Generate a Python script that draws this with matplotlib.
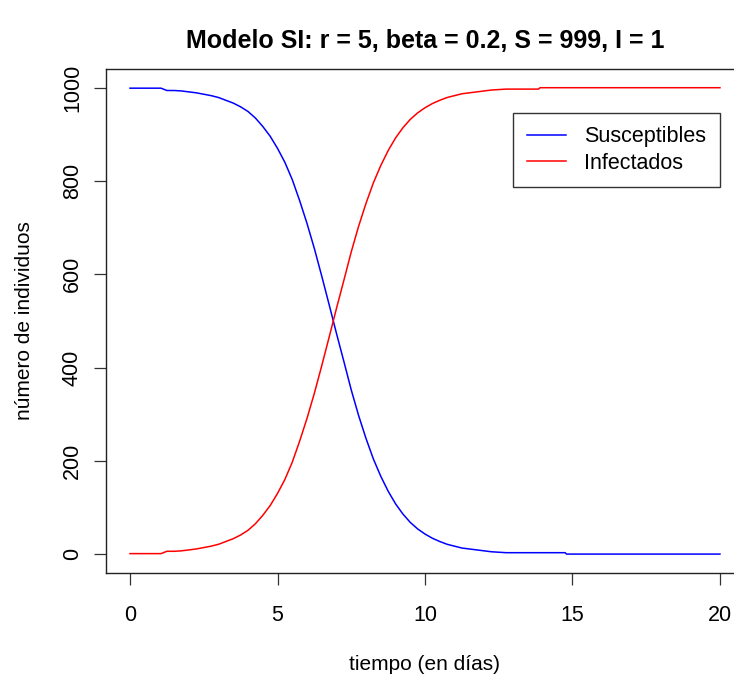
import matplotlib.pyplot as plt

plt.rcParams['font.family'] = ['Liberation Sans', 'DejaVu Sans']

# tiempo (dias) y lecturas de la simulacion
dias = [0, 0.5, 1.05,
        1.25, 1.5, 1.75, 2.0, 2.25, 2.5, 2.75, 3.0, 3.25, 3.5, 3.75, 4.0,
        4.25, 4.5, 4.75, 5.0, 5.25, 5.5, 5.75, 6.0, 6.25, 6.5, 6.75, 7.0,
        7.25, 7.5, 7.75, 8.0, 8.25, 8.5, 8.75, 9.0, 9.25, 9.5, 9.75, 10.0,
        10.25, 10.5, 10.75, 11.0, 11.25, 11.5, 11.75, 12.0, 12.25, 12.5, 12.75,
        13.85, 13.9, 14.75, 14.8, 20.0]

susceptibles = [999, 999, 999,
                994, 994, 993, 991, 989, 986, 983, 979, 973, 967, 959, 949,
                935, 917, 896, 870, 840, 803, 758, 709, 655, 596, 535, 473,
                413, 352, 297, 248, 204, 167, 135, 108, 86, 68, 54, 43,
                34, 27, 21, 17, 13, 11, 9, 7, 5, 4, 3,
                3, 3, 3, 0, 0]

infectados = [1, 1, 1,
              6, 6, 7, 9, 11, 14, 17, 21, 27, 33, 41, 51,
              65, 83, 104, 130, 160, 197, 242, 291, 345, 404, 465, 527,
              587, 648, 703, 752, 796, 833, 865, 892, 914, 932, 946, 957,
              966, 973, 979, 983, 987, 989, 991, 993, 995, 996, 997,
              997, 1000, 1000, 1000, 1000]

fig = plt.figure(figsize=(7.34, 6.77), dpi=100)
ax = fig.add_axes([0.145, 0.154, 0.868, 0.744])

ax.plot(dias, susceptibles, color='blue', lw=1.1, label='Susceptibles')
ax.plot(dias, infectados, color='red', lw=1.1, label='Infectados')

ax.set_xlim(-0.8, 20.8)
ax.set_ylim(-40, 1040)
ax.set_xticks([0, 5, 10, 15, 20])
ax.set_yticks([0, 200, 400, 600, 800, 1000])
ax.tick_params(axis='both', labelsize=15.5, length=8.4, width=0.9, color='#333333')
ax.tick_params(axis='x', pad=15)
ax.tick_params(axis='y', pad=8.5)
plt.setp(ax.get_yticklabels(), rotation=90, va='center')
for s in ax.spines.values():
    s.set_linewidth(1.0)
    s.set_color('#222222')

ax.set_title('Modelo SI: r = 5, beta = 0.2, S = 999, I = 1',
             fontsize=18, fontweight='bold', pad=15.5)
ax.set_xlabel('tiempo (en días)', fontsize=15, labelpad=21)
ax.set_ylabel('número de individuos', fontsize=15, labelpad=20)

leg = ax.legend(loc='upper left', bbox_to_anchor=(0.6386, 0.9137),
                fontsize=15.5, frameon=True, fancybox=False, borderpad=0.64,
                handlelength=1.8, handletextpad=0.85, labelspacing=0.25,
                borderaxespad=0)
leg.get_frame().set_edgecolor('black')
leg.get_frame().set_linewidth(1.0)

fig.savefig('out.png', dpi=100)
